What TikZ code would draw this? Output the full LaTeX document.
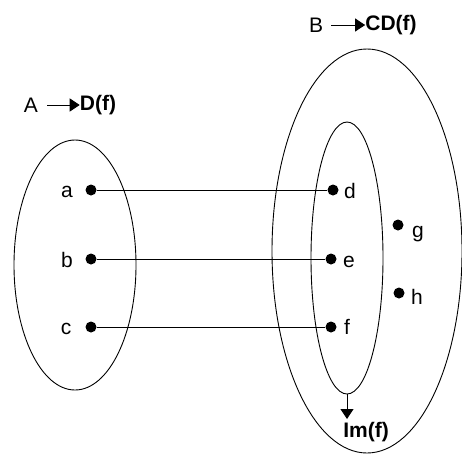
\documentclass[tikz,border=0pt]{standalone}
\usepackage{fontspec}
\setmainfont{Liberation Sans}
\usetikzlibrary{arrows.meta}
\begin{document}
\begin{tikzpicture}[x=1pt,y=-1pt,
  set/.style={draw,line width=0.9pt},
  dot/.style={circle,fill=black,inner sep=0pt,minimum size=11pt},
  lbl/.style={font=\fontsize{21}{24}\selectfont,inner sep=0pt},
  ttl/.style={font=\fontsize{21}{24}\selectfont,inner sep=0pt},
  bttl/.style={font=\fontsize{21}{24}\selectfont\bfseries,inner sep=0pt},
  conn/.style={line width=0.8pt},
  tip/.style={-{Triangle[length=10pt,width=13pt]},line width=1pt}]
\useasboundingbox (0,0) rectangle (462,456);
% sets
\draw[set] (75,265) ellipse [x radius=61, y radius=125];
\draw[set] (367,251) ellipse [x radius=95, y radius=202];
\draw[set] (347,258) ellipse [x radius=36, y radius=136];
% points
\node[dot] (a) at (91,190) {};
\node[dot] (b) at (91,259) {};
\node[dot] (c) at (91,327) {};
\node[dot] (d) at (333,190) {};
\node[dot] (e) at (331,259) {};
\node[dot] (f) at (331,327) {};
\node[dot] (g) at (398,225) {};
\node[dot] (h) at (399,293) {};
\node[lbl] (la) at (67,192) {a};
\node[lbl] (lb) at (67,260) {b};
\node[lbl] (lc) at (66,329) {c};
\node[lbl] (ld) at (350,191) {d};
\node[lbl] (le) at (349,262) {e};
\node[lbl] (lf) at (347,327) {f};
\node[lbl] (lg) at (418,234) {g};
\node[lbl] (lh) at (417,297) {h};
\draw[conn] (a) -- (d);
\draw[conn] (b) -- (e);
\draw[conn] (c) -- (f);
% titles
\node[ttl] (A) at (31,105) {A};
\node[bttl] (Df) at (98,105) {D(f)};
\coordinate (As) at (47,105);
\draw[tip] (As) -- (Df.west);
\node[ttl] (B) at (316,25) {B};
\node[bttl] (CDf) at (391,25) {CD(f)};
\coordinate (Bs) at (331,25);
\draw[tip] (Bs) -- (CDf.west);
% Im(f)
\coordinate (bot) at (347,394);
\node[bttl] (Im) at (366,432) {Im(f)};
\draw[tip] (bot) -- (347,419);
\end{tikzpicture}
\end{document}
